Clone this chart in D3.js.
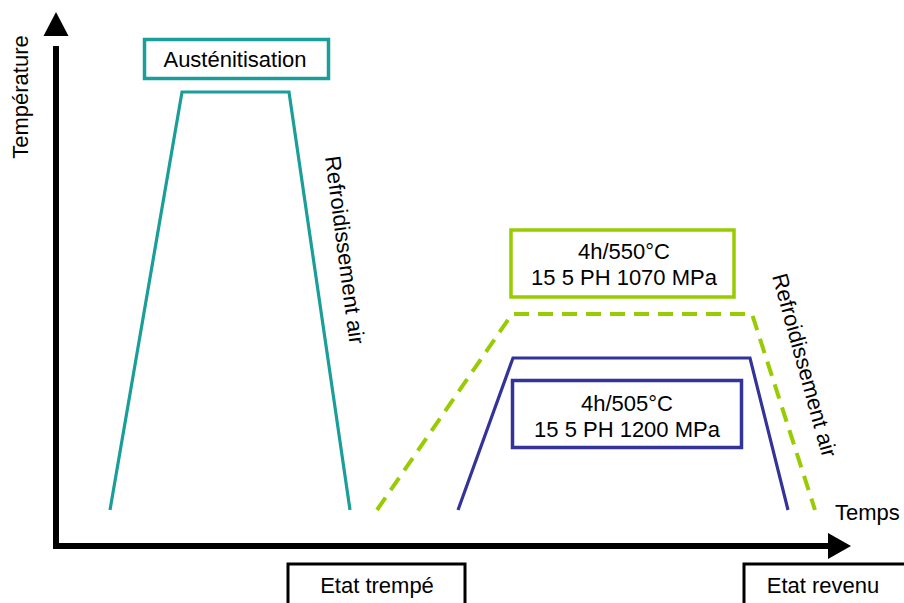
<!DOCTYPE html>
<html><head><meta charset="utf-8">
<script src="https://cdn.jsdelivr.net/npm/d3@7"></script>
<style>body{margin:0;background:#fff}svg{display:block}text{font-family:"Liberation Sans",Arial,sans-serif;fill:#000}</style>
</head><body>
<script>
// Abstract time / temperature units
const austTime = [54, 126, 233, 294];
const austTemp = [36, 454, 454, 36];
const rev550Time = [321, 456, 696, 759];
const rev550Temp = [36, 232, 232, 36];
const rev505Time = [402, 457, 694, 732];
const rev505Temp = [36, 188, 188, 36];
const labelAust = "Austénitisation";
const label550 = ["4h/550°C", "15 5 PH 1070 MPa"];
const label505 = ["4h/505°C", "15 5 PH 1200 MPa"];
const labelCool = "Refroidissement air";
const labelStates = ["Etat trempé", "Etat revenu"];
const axisTitles = ["Température", "Temps"];

const W = 904, H = 603;
const svg = d3.select("body").append("svg").attr("width", W).attr("height", H);
const x = d3.scaleLinear().domain([0, 800]).range([56, 856]);
const y = d3.scaleLinear().domain([0, 534]).range([546, 12]);

const teal = "#1a9e99", green = "#99cc00", blue = "#333399";
const FS = 22;

// axes
svg.append("line").attr("x1", x(0)).attr("y1", y(0) + 3).attr("x2", x(0)).attr("y2", y(500))
  .attr("stroke", "#000").attr("stroke-width", 6);
svg.append("line").attr("x1", x(0) - 3).attr("y1", y(0)).attr("x2", x(772)).attr("y2", y(0))
  .attr("stroke", "#000").attr("stroke-width", 6);
svg.append("path").attr("d", `M${x(0)},${y(534)} L${x(0)-12.5},${y(510)} L${x(0)+12.5},${y(510)} Z`).attr("fill", "#000");
svg.append("path").attr("d", `M${x(795)},${y(0)} L${x(772)},${y(0)-13} L${x(772)},${y(0)+13} Z`).attr("fill", "#000");

const line = d3.line().x(d => x(d[0])).y(d => y(d[1]));
const zip = (a, b) => a.map((v, i) => [v, b[i]]);

svg.append("path").attr("d", line(zip(austTime, austTemp))).attr("fill", "none")
  .attr("stroke", teal).attr("stroke-width", 3.2);
svg.append("path").attr("d", line(zip(rev550Time, rev550Temp))).attr("fill", "none")
  .attr("stroke", green).attr("stroke-width", 4).attr("stroke-dasharray", "15,9");
svg.append("path").attr("d", line(zip(rev505Time, rev505Temp))).attr("fill", "none")
  .attr("stroke", blue).attr("stroke-width", 3.2);

// boxes
function box(x0, y0, w, h, col, sw) {
  svg.append("rect").attr("x", x0).attr("y", y0).attr("width", w).attr("height", h)
    .attr("fill", "#fff").attr("stroke", col).attr("stroke-width", sw);
}
box(144.5, 39.5, 184, 39, teal, 3.5);
svg.append("text").attr("x", 235).attr("y", 67).attr("text-anchor", "middle").attr("font-size", FS).text(labelAust);

box(511, 230, 223, 67, green, 3.5);
label550.forEach((t, i) => svg.append("text").attr("x", 624).attr("y", 259 + i * 26)
  .attr("text-anchor", "middle").attr("font-size", FS).text(t));

box(512.5, 380.5, 229, 67, blue, 3.5);
label505.forEach((t, i) => svg.append("text").attr("x", 627).attr("y", 411 + i * 26)
  .attr("text-anchor", "middle").attr("font-size", FS).text(t));

box(288, 564, 177, 50, "#000", 3);
svg.append("text").attr("x", 377).attr("y", 593).attr("text-anchor", "middle").attr("font-size", FS).text(labelStates[0]);
box(744, 564, 170, 50, "#000", 3);
svg.append("text").attr("x", 823).attr("y", 593).attr("text-anchor", "middle").attr("font-size", FS).text(labelStates[1]);

// rotated labels
svg.append("text").attr("transform", "translate(325,157) rotate(82.5)").attr("font-size", FS).text(labelCool);
svg.append("text").attr("transform", "translate(772,276) rotate(74.5)").attr("font-size", FS).text(labelCool);

svg.append("text").attr("transform", "translate(28,97) rotate(-90)").attr("text-anchor", "middle").attr("font-size", FS).text(axisTitles[0]);
svg.append("text").attr("x", 835).attr("y", 520).attr("font-size", FS).text(axisTitles[1]);
</script>
</body></html>
